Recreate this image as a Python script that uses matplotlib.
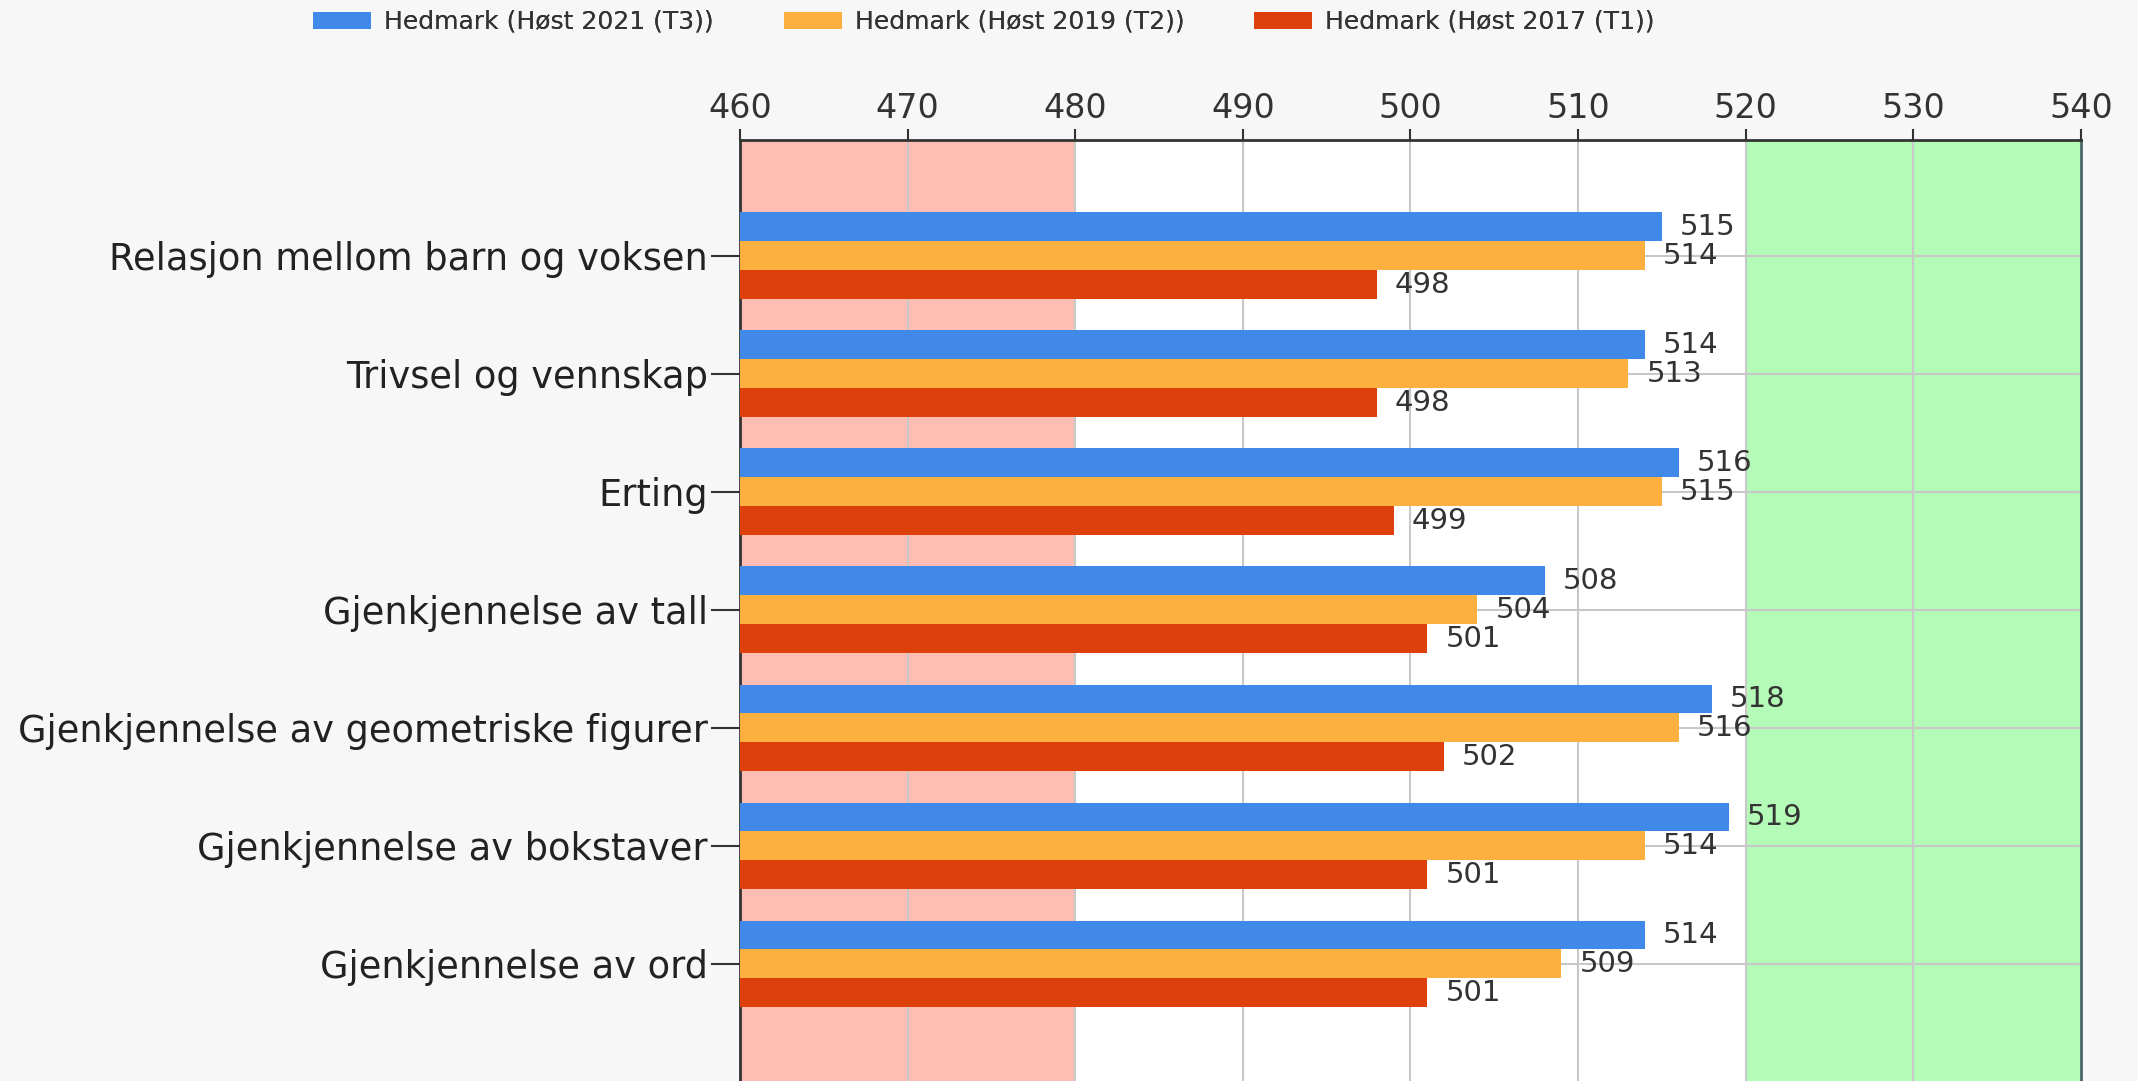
import matplotlib.pyplot as plt
import numpy as np

# --- DATA ---
categories = [
    "Relasjon mellom barn og voksen",
    "Trivsel og vennskap",
    "Erting",
    "Gjenkjennelse av tall",
    "Gjenkjennelse av geometriske figurer",
    "Gjenkjennelse av bokstaver",
    "Gjenkjennelse av ord",
]
t3_2021 = [515, 514, 516, 508, 518, 519, 514]
t2_2019 = [514, 513, 515, 504, 516, 514, 509]
t1_2017 = [498, 498, 499, 501, 502, 501, 501]
series_labels = ["Hedmark (Høst 2021 (T3))", "Hedmark (Høst 2019 (T2))", "Hedmark (Høst 2017 (T1))"]
x_ticks = [460, 470, 480, 490, 500, 510, 520, 530, 540]

# --- STYLE ---
COLORS = ["#4189E9", "#FBB03F", "#DE400B"]
PINK = "#FFBDB3"
GREEN = "#B3FBB6"
BAR_H = 0.245
TXT = "#333333"

plt.rcParams['font.family'] = ['DejaVu Sans']

fig = plt.figure(figsize=(21.38, 10.81), dpi=100, facecolor="#F7F7F7")
ax = fig.add_axes([0.3461, -0.003, 0.6272, 0.8733])
ax.set_facecolor("white")

# bands
ax.axvspan(460, 480, color=PINK, zorder=0, lw=0)
ax.axvspan(520, 540, color=GREEN, zorder=0, lw=0)

y = np.arange(len(categories))
series = [t3_2021, t2_2019, t1_2017]
offsets = [-BAR_H, 0, BAR_H]
handles = []
for vals, off, col, lab in zip(series, offsets, COLORS, series_labels):
    bars = ax.barh(y + off, np.array(vals) - 460, left=460, height=BAR_H,
                   color=col, label=lab, zorder=3)
    handles.append(bars)
    for b, v in zip(bars, vals):
        ax.annotate(str(v), (b.get_x() + b.get_width(), b.get_y() + b.get_height() / 2),
                    xytext=(13, 0), textcoords="offset points", va="center", ha="left",
                    fontsize=21, color=TXT, zorder=4)

ax.set_xlim(460, 540)
ax.set_ylim(7.02, -0.98)
ax.set_xticks(x_ticks)
ax.set_yticks(y)
ax.set_yticklabels(categories, fontsize=26.5, color="#222222")
ax.xaxis.tick_top()
ax.tick_params(axis="x", direction="out", length=8, width=1.5, color=TXT,
               labelsize=24, pad=3, labelcolor=TXT)
ax.tick_params(axis="y", direction="out", length=21, width=1.5, color=TXT, pad=2)

ax.grid(True, color="#C8C8C8", lw=1.5, zorder=1)
ax.set_axisbelow(True)

ax.spines["bottom"].set_visible(False)
ax.spines["top"].set_color(TXT)
ax.spines["top"].set_linewidth(2)
ax.spines["left"].set_color(TXT)
ax.spines["left"].set_linewidth(2)
ax.spines["right"].set_color("#4A6A66")
ax.spines["right"].set_linewidth(2)

# legend: one entry per series, placed along the top
legend_x = [313, 784, 1254]
for h, lab, lx in zip(handles, series_labels, legend_x):
    leg = fig.legend([h], [lab], loc="center left", bbox_to_anchor=(lx / 2138, 1 - 22 / 1081),
                     frameon=False, fontsize=18, handlelength=2.3, handleheight=0.68,
                     handletextpad=0.55, borderaxespad=0, borderpad=0, labelcolor=TXT)
    fig.add_artist(leg)

fig.savefig("out.png", dpi=100, facecolor=fig.get_facecolor())
